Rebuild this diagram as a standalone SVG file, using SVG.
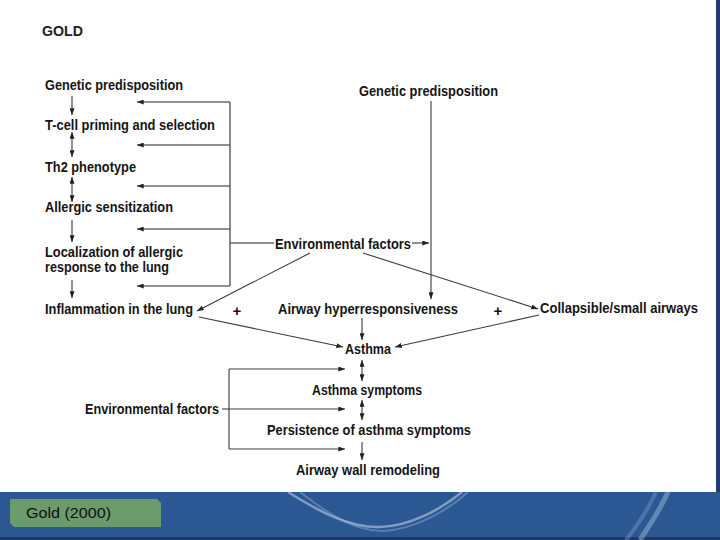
<svg xmlns="http://www.w3.org/2000/svg" width="720" height="540" viewBox="0 0 720 540">
<defs>
<style>
.t{font-family:"Liberation Sans",Arial,sans-serif;font-weight:bold;font-size:15px;fill:#151515}
.ln{stroke:#3a3a3a;stroke-width:1.1;fill:none}
.br{stroke:#6a6a6a;stroke-width:1.6;fill:none}
.ar{marker-end:url(#ah)}
.bi{marker-start:url(#ah);marker-end:url(#ah)}
</style>
<marker id="ah" viewBox="0 0 8 6" refX="8" refY="3" markerWidth="7" markerHeight="5" markerUnits="userSpaceOnUse" orient="auto-start-reverse">
<path d="M0,0 L8,3 L0,6 Z" fill="#222"/>
</marker>
</defs>
<rect width="720" height="540" fill="#ffffff"/>
<rect x="716" y="0" width="4" height="494" fill="#1f3c6c"/>
<g id="footer">
<rect x="0" y="492" width="720" height="48" fill="#2b5893"/>
<rect x="0" y="537" width="720" height="3" fill="#1d3a66"/>
<path d="M288,492 C320,512 350,528 380,527 C410,526 440,510 462,492" stroke="#c9d7ea" stroke-width="2.5" fill="none" opacity="0.55"/>
<path d="M300,492 C330,515 355,531 382,531 C415,530 448,510 468,492" stroke="#9fb8d9" stroke-width="2" fill="none" opacity="0.4"/>
<path d="M668,492 C660,510 650,525 640,540" stroke="#a9c0df" stroke-width="5" fill="none" opacity="0.45"/>
<path d="M656,492 C648,510 637,526 626,540" stroke="#7f9fcb" stroke-width="4" fill="none" opacity="0.4"/>
<path d="M10,499 L157,499 L161,503 L161,527 L14,527 L10,523 Z" fill="#6b9b6b"/>
<text x="26" y="518" font-family="'Liberation Sans',Arial,sans-serif" font-size="15" fill="#111" textLength="85" lengthAdjust="spacingAndGlyphs">Gold (2000)</text>
</g>
<text id="title" x="42" y="36" font-family="'Liberation Sans',Arial,sans-serif" font-weight="bold" font-size="15" fill="#222" textLength="41" lengthAdjust="spacingAndGlyphs">GOLD</text>

<g id="connectors">
<line class="ln ar" x1="72" y1="96" x2="72" y2="115"/>
<line class="ln bi" x1="72" y1="132" x2="72" y2="157"/>
<line class="ln bi" x1="72" y1="177" x2="72" y2="202"/>
<line class="ln ar" x1="72" y1="220" x2="72" y2="242"/>
<line class="ln ar" x1="72" y1="280" x2="72" y2="298"/>
<polyline class="br" points="230,102 230,286"/>
<line class="br" x1="230" y1="243" x2="274" y2="243"/>
<line class="br ar" x1="230" y1="102" x2="137" y2="102"/>
<line class="br ar" x1="230" y1="145" x2="137" y2="145"/>
<line class="br ar" x1="230" y1="186" x2="137" y2="186"/>
<line class="br ar" x1="230" y1="229" x2="137" y2="229"/>
<line class="br ar" x1="230" y1="286" x2="137" y2="286"/>
<line class="ln ar" x1="412" y1="243" x2="429" y2="243"/>
<line class="ln ar" x1="431" y1="101" x2="431" y2="299"/>
<line class="ln ar" x1="310" y1="253" x2="197" y2="311"/>
<line class="ln ar" x1="363" y1="253" x2="538" y2="309"/>
<line class="ln ar" x1="199" y1="317" x2="343" y2="347"/>
<line class="ln ar" x1="539" y1="315" x2="395" y2="347"/>
<line class="ln ar" x1="362" y1="318" x2="362" y2="340"/>
<line class="ln bi" x1="362" y1="360" x2="362" y2="381"/>
<line class="ln bi" x1="362" y1="400" x2="362" y2="420"/>
<line class="ln ar" x1="362" y1="442" x2="362" y2="460"/>
<line class="ln" x1="229" y1="369" x2="229" y2="449"/>
<line class="ln" x1="222" y1="409" x2="229" y2="409"/>
<line class="ln ar" x1="229" y1="369" x2="345" y2="369"/>
<line class="ln ar" x1="229" y1="409" x2="345" y2="409"/>
<line class="ln ar" x1="229" y1="449" x2="345" y2="449"/>
</g>

<g id="n-genetic-left"><text class="t" x="45" y="90" textLength="138" lengthAdjust="spacingAndGlyphs">Genetic predisposition</text></g>
<g id="n-tcell"><text class="t" x="45" y="130" textLength="170" lengthAdjust="spacingAndGlyphs">T-cell priming and selection</text></g>
<g id="n-th2"><text class="t" x="45" y="172" textLength="91" lengthAdjust="spacingAndGlyphs">Th2 phenotype</text></g>
<g id="n-allergic"><text class="t" x="45" y="212" textLength="128" lengthAdjust="spacingAndGlyphs">Allergic sensitization</text></g>
<g id="n-localization"><text class="t" x="45" y="257" textLength="138" lengthAdjust="spacingAndGlyphs">Localization of allergic</text>
<text class="t" x="45" y="272" textLength="124" lengthAdjust="spacingAndGlyphs">response to the lung</text></g>
<g id="n-inflammation"><text class="t" x="45" y="314" textLength="148" lengthAdjust="spacingAndGlyphs">Inflammation in the lung</text></g>
<g id="n-genetic-right"><text class="t" x="359" y="96" textLength="139" lengthAdjust="spacingAndGlyphs">Genetic predisposition</text></g>
<g id="n-env-mid"><text class="t" x="275" y="249" textLength="136" lengthAdjust="spacingAndGlyphs">Environmental factors</text></g>
<g id="n-ahr"><text class="t" x="278" y="314" textLength="180" lengthAdjust="spacingAndGlyphs">Airway hyperresponsiveness</text></g>
<g id="n-collapsible"><text class="t" x="540" y="313" textLength="158" lengthAdjust="spacingAndGlyphs">Collapsible/small airways</text></g>
<g id="plus-left"><text class="t" x="237" y="316" text-anchor="middle">+</text></g>
<g id="plus-right"><text class="t" x="498" y="316" text-anchor="middle">+</text></g>
<g id="n-asthma"><text class="t" x="345" y="354" textLength="46" lengthAdjust="spacingAndGlyphs">Asthma</text></g>
<g id="n-symptoms"><text class="t" x="312" y="395" textLength="110" lengthAdjust="spacingAndGlyphs">Asthma symptoms</text></g>
<g id="n-persistence"><text class="t" x="267" y="435" textLength="204" lengthAdjust="spacingAndGlyphs">Persistence of asthma symptoms</text></g>
<g id="n-remodeling"><text class="t" x="296" y="475" textLength="144" lengthAdjust="spacingAndGlyphs">Airway wall remodeling</text></g>
<g id="n-env-bottom"><text class="t" x="85" y="414" textLength="134" lengthAdjust="spacingAndGlyphs">Environmental factors</text></g>
</svg>
